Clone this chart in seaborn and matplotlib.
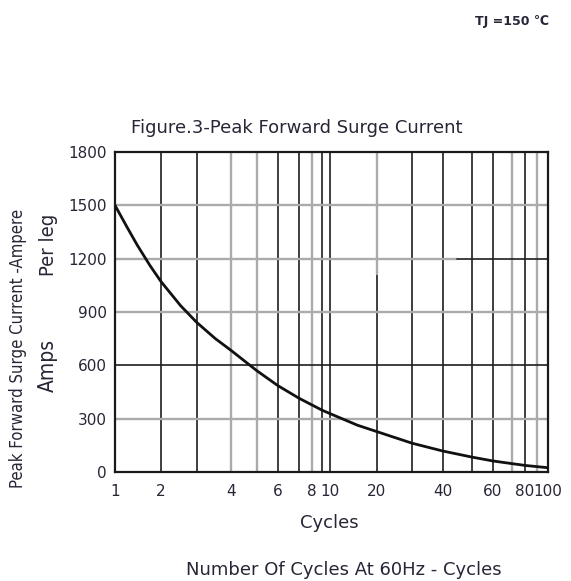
import numpy as np
import pandas as pd
import matplotlib
matplotlib.use("Agg")
import matplotlib.pyplot as plt
import seaborn as sns

# curve (cycles -> peak surge current, A)
cycles = [1, 1.2, 1.4, 1.7, 2, 2.5, 3, 3.5, 4, 5, 6, 7, 8, 9, 10,
          15, 20, 30, 40, 50, 60, 70, 80, 100]
current = [1500, 1377, 1276, 1160, 1072, 935, 841, 751, 684, 569, 486, 415,
           377, 348, 328, 263, 227, 162, 118, 84, 62, 47, 37, 24]

# grid lines of the printed chart and where they sit along the axis (0..1)
grid_cycles = [1, 2, 3, 4, 5, 6, 7, 8, 9, 10, 20, 30, 40, 50, 60, 70, 80, 90, 100]
grid_pos = [0.0, 0.106, 0.189, 0.268, 0.328, 0.376, 0.425, 0.455, 0.478, 0.497,
            0.605, 0.686, 0.757, 0.824, 0.873, 0.917, 0.947, 0.975, 1.0]
gray_vlines = [4, 5, 8, 70, 90]

x_ticks = [1, 2, 4, 6, 8, 10, 20, 40, 60, 80, 100]
y_ticks = [0, 300, 600, 900, 1200, 1500, 1800]

df = pd.DataFrame({"cycles": cycles, "current": current})

sns.set_style("white")
plt.rcParams["font.family"] = ["DejaVu Sans"]
txt = "#262636"
dark = "#1e1e1e"
light = "#ababab"

fig = plt.figure(figsize=(5.71, 5.81), dpi=100)
ax = fig.add_axes([115 / 571, 1 - 472 / 581, 433 / 571, 320 / 581])

lg = np.log10(grid_cycles)


def fwd(x):
    return np.interp(np.log10(np.clip(x, 1e-9, None)), lg, grid_pos)


def inv(p):
    return 10 ** np.interp(p, grid_pos, lg)


ax.set_xscale("function", functions=(fwd, inv))
ax.set_xlim(1, 100)
ax.set_ylim(0, 1800)

# vertical grid
for c in grid_cycles[1:-1]:
    if c in gray_vlines:
        ax.axvline(c, color=light, lw=1.7, zorder=1)
    elif c == 20:
        ax.axvline(c, ymin=0, ymax=0.62, color=dark, lw=1.2, zorder=1)
        ax.axvline(c, ymin=0.62, ymax=1, color=light, lw=1.7, zorder=1)
    else:
        ax.axvline(c, color=dark, lw=1.2, zorder=1)

# horizontal grid
ax.axhline(1500, color=light, lw=1.7, zorder=1)
ax.axhline(1200, xmin=0, xmax=0.79, color=light, lw=1.7, zorder=1)
ax.axhline(1200, xmin=0.79, xmax=1, color=dark, lw=1.2, zorder=1)
ax.axhline(900, color=light, lw=1.7, zorder=1)
ax.axhline(600, color=dark, lw=1.2, zorder=1)
ax.axhline(300, color=light, lw=1.7, zorder=1)

sns.lineplot(data=df, x="cycles", y="current", ax=ax, color="#111111",
             lw=2.0, zorder=3)

ax.set_xticks(x_ticks)
ax.set_xticklabels([str(t) for t in x_ticks])
ax.set_yticks(y_ticks)
ax.tick_params(axis="both", length=0, labelsize=11, colors=txt)
ax.tick_params(axis="x", pad=9)
ax.tick_params(axis="y", pad=6)
ax.minorticks_off()
for s in ax.spines.values():
    s.set_visible(True)
    s.set_color("#1a1a1a")
    s.set_linewidth(1.6)

ax.set_xlabel("")
ax.set_ylabel("")

fig.text(297 / 571, 1 - 128 / 581, "Figure.3-Peak Forward Surge Current",
         ha="center", va="center", fontsize=13, color=txt)
fig.text(329 / 571, 1 - 523 / 581, "Cycles", ha="center", va="center",
         fontsize=13, color=txt)
fig.text(344 / 571, 1 - 570 / 581, "Number Of Cycles At 60Hz - Cycles",
         ha="center", va="center", fontsize=13, color=txt)
fig.text(512 / 571, 1 - 21 / 581, "TJ =150 ℃", ha="center", va="center",
         fontsize=9, fontweight="bold", color=txt)

fig.text(18 / 571, 1 - 348 / 581, "Peak Forward Surge Current -Ampere",
         rotation=90, ha="center", va="center", fontsize=12,
         fontstretch="condensed", color=txt)
fig.text(48 / 571, 1 - 245 / 581, "Per leg", rotation=90, ha="center",
         va="center", fontsize=14.5, fontstretch="condensed", color=txt)
fig.text(48 / 571, 1 - 365 / 581, "Amps", rotation=90, ha="center",
         va="center", fontsize=15, fontstretch="condensed", color=txt)

fig.savefig("out.png", dpi=100)
